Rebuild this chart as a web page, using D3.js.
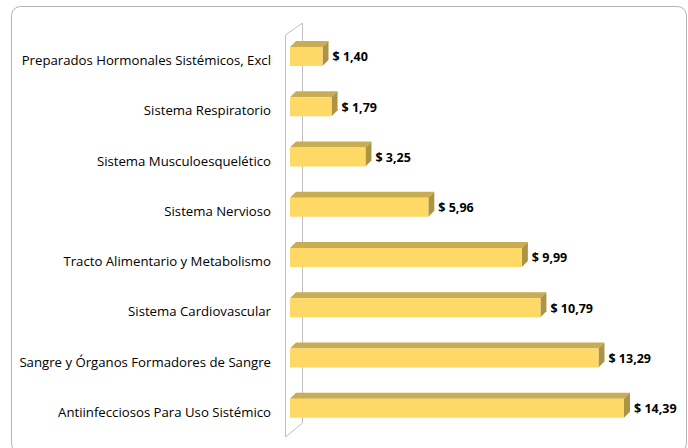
<!DOCTYPE html>
<html>
<head>
<meta charset="utf-8">
<script src="https://cdn.jsdelivr.net/npm/d3@7"></script>
<style>
  body { margin: 0; background: #fff; }
  svg { display: block; }
</style>
</head>
<body>
<script>
const w = 688;
const h = 448;

const categories = [
  "Preparados Hormonales Sistémicos, Excl",
  "Sistema Respiratorio",
  "Sistema Musculoesquelético",
  "Sistema Nervioso",
  "Tracto Alimentario y Metabolismo",
  "Sistema Cardiovascular",
  "Sangre y Órganos Formadores de Sangre",
  "Antiinfecciosos Para Uso Sistémico"
];
const values = [1.40, 1.79, 3.25, 5.96, 9.99, 10.79, 13.29, 14.39];

const frontFill = "#FFD966";
const topFill = "#C9AD55";
const sideFill = "#AD9443";
const wallStroke = "#bfbfbf";

const data = categories.map((c, i) => ({ name: c, value: values[i] }));

const locale = d3.formatLocale({ decimal: ",", thousands: ".", grouping: [3], currency: ["$ ", ""] });
const fmt = locale.format("$.2f");

const svg = d3.select("body")
              .append("svg")
              .attr("width", w)
              .attr("height", h);

// outer chart border
svg.append("rect")
   .attr("x", 11.5).attr("y", 6.5)
   .attr("width", 675).attr("height", 446)
   .attr("rx", 9)
   .attr("fill", "#fff")
   .attr("stroke", "#b3b3b3");

const x = d3.scaleLinear().domain([0, 14.39]).range([290, 624]);
const y = d3.scaleBand().domain(categories).range([35, 437]);

const depth = 6;
const barH = 19;

// 3D wall
const wall = svg.append("g").attr("fill", "none").attr("stroke", wallStroke).attr("stroke-width", 1);
wall.append("path").attr("d", "M285.5,35 L302.5,23 L302.5,423 L285.5,437 Z");

const bars = svg.append("g").selectAll("g")
  .data(data)
  .enter()
  .append("g");

// top face
bars.append("path")
    .attr("fill", topFill)
    .attr("d", d => {
      const y0 = y(d.name) + 12;
      const x0 = x(0), x1 = x(d.value);
      return `M${x0},${y0} L${x0 + depth},${y0 - depth} L${x1 + depth},${y0 - depth} L${x1},${y0} Z`;
    });

// side face
bars.append("path")
    .attr("fill", sideFill)
    .attr("d", d => {
      const y0 = y(d.name) + 12;
      const x1 = x(d.value);
      return `M${x1},${y0} L${x1 + depth},${y0 - depth} L${x1 + depth},${y0 - depth + barH} L${x1},${y0 + barH} Z`;
    });

// front face
bars.append("rect")
    .attr("x", x(0))
    .attr("y", d => y(d.name) + 12)
    .attr("width", d => x(d.value) - x(0))
    .attr("height", barH)
    .attr("fill", frontFill);

// value labels
bars.append("text")
    .attr("x", d => x(d.value) + depth + 4)
    .attr("y", d => y(d.name) + 12 + barH / 2 + 1.5)
    .attr("dominant-baseline", "middle")
    .attr("style", "font-family: 'Open Sans', sans-serif; font-weight: bold; font-size: 12.5px;")
    .attr("fill", "#000")
    .text(d => fmt(d.value));

// category labels
svg.append("g").selectAll("text")
   .data(data)
   .enter()
   .append("text")
   .attr("x", 271)
   .attr("y", d => y(d.name) + 12 + barH / 2 + 5)
   .attr("text-anchor", "end")
   .attr("dominant-baseline", "middle")
   .attr("style", "font-family: 'Open Sans', sans-serif; font-size: 13.2px;")
   .attr("fill", "#000")
   .text(d => d.name);
</script>
</body>
</html>
